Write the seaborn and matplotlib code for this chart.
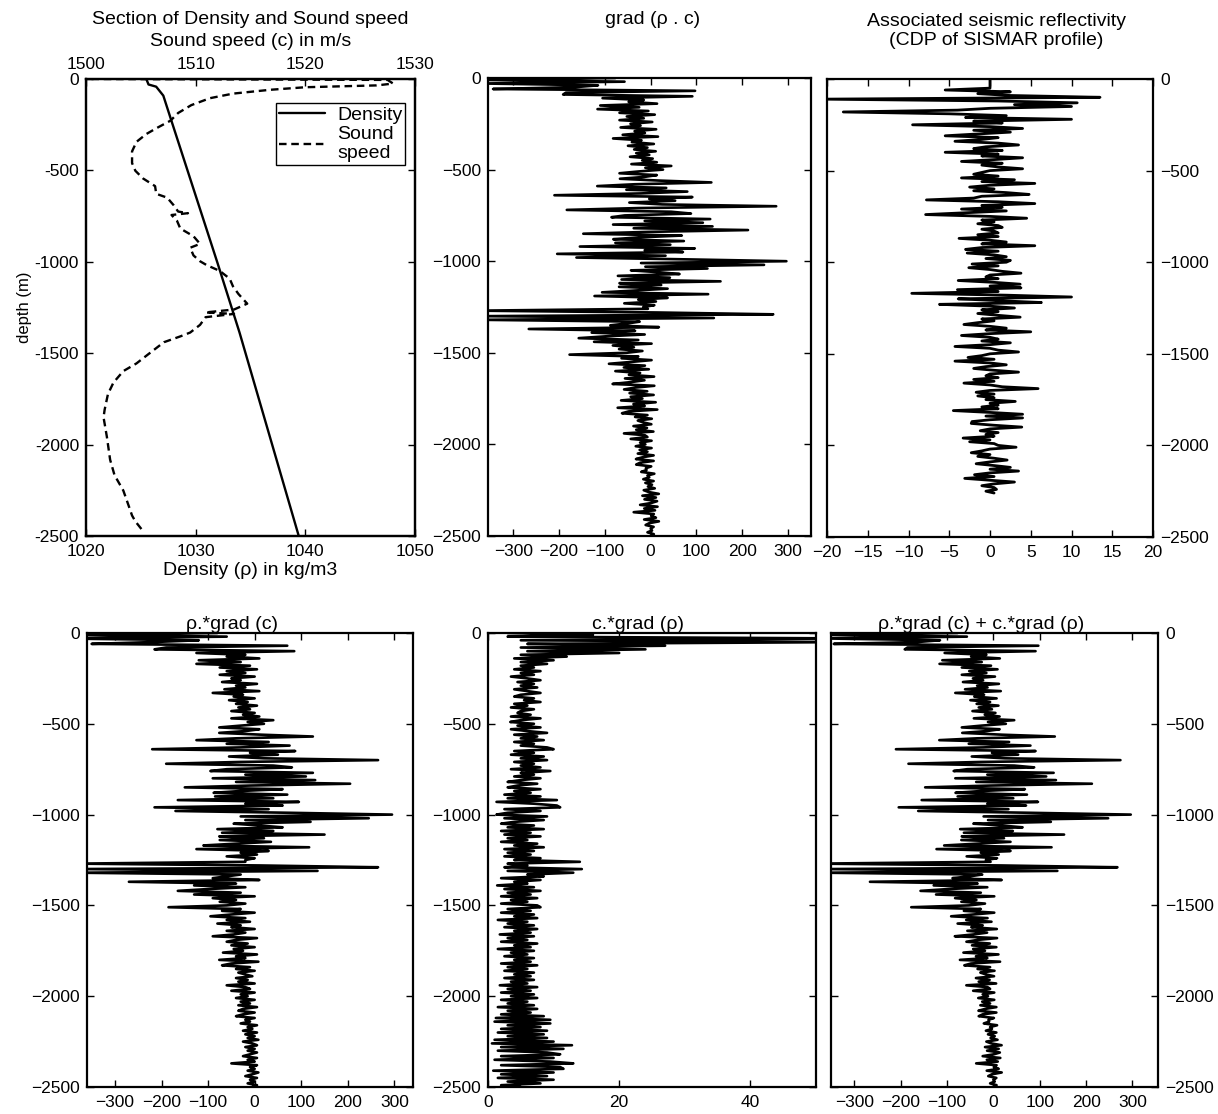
import numpy as np
import matplotlib
matplotlib.use("Agg")
import matplotlib.pyplot as plt
import seaborn as sns

# ---- values ----
# density profile (depth in m, rho in kg/m3)
dens_depth = [0, -30, -42, -91, -249, -1008, -1387, -2500]
dens_val = [1025.5, 1025.7, 1026.4, 1027.05, 1027.9, 1032.0, 1034.0, 1039.4]

# sound speed profile (depth in m, c in m/s)
c_depth = [0, -5, -25, -35, -45, -59, -80, -105, -143, -186, -228, -270, -301, -344,
           -396, -460, -502, -544, -586, -628, -649, -691, -725, -734, -744, -776,
           -818, -860, -902, -923, -965, -997, -1018, -1050, -1092, -1134, -1176,
           -1229, -1261, -1277, -1285, -1303, -1345, -1387, -1408, -1440, -1514,
           -1556, -1598, -1661, -1724, -1809, -1851, -1956, -2083, -2167, -2251,
           -2336, -2388, -2420, -2473]
c_val = [1500.5, 1527.5, 1528, 1526.5, 1520, 1516.8, 1513.4, 1511.3, 1509.6, 1508.4,
         1507.7, 1506.4, 1505.5, 1504.6, 1504.2, 1504.2, 1504.5, 1505.2, 1506.3,
         1506.4, 1507.4, 1508, 1508.4, 1509.3, 1507.8, 1508.3, 1508.6, 1509.8,
         1510.4, 1509.5, 1509.8, 1510.4, 1511, 1512.2, 1513.1, 1513.4, 1513.9,
         1514.7, 1513.5, 1510.9, 1513.5, 1510.9, 1510.4, 1509.5, 1508.6, 1507.1,
         1505.5, 1504.6, 1503.4, 1502.5, 1502, 1501.7, 1501.6, 1501.9, 1502.2,
         1502.6, 1503.4, 1503.9, 1504.2, 1504.5, 1505.2]

# rho.*grad(c), one value every 10 m from 0 to -2500 m
rho_gradc = [
    -80, -400, -60, -420, -120, -220, -350, 70, -190, -215,
    85, -125, -20, -60, 10, -120, -30, -125, -10, -75,
    5, -60, -20, -75, 0, -50, -30, -70, 5, -40,
    -20, -65, 10, -90, -25, -45, 0, -55, -15, -40,
    5, -35, -10, -50, 0, -25, 10, -50, 40, -15,
    20, -30, -76, 10, -20, -76, 15, 125, -40, -125,
    30, -60, 75, -30, -220, 87, -10, 50, -55, 20,
    265, -30, -190, 40, 80, -60, -95, 125, -20, 110,
    -90, 130, -40, 205, -10, -150, 60, -30, -88, 70,
    -85, 40, -165, 95, -20, 60, -215, 30, -170, 75,
    295, -30, 245, -20, 120, -45, 10, 60, -80, 40,
    -70, 150, -76, 20, -75, 35, -40, -110, 117, -125,
    30, -30, 5, -60, 0, -20, -20, -380, 10, 265,
    -380, 135, -380, -30, -60, -90, 10, -270, -40, -130,
    -20, -100, -165, -30, -130, 0, -90, -40, -75, -20,
    -60, -185, -30, -70, 0, -50, -95, -20, -60, -10,
    -80, -30, -50, 0, -60, -20, -45, -90, 5, -40,
    -60, -15, -50, 0, -45, -25, -68, 5, -40, -20,
    -76, 8, -50, -70, -10, -40, 0, -35, -20, -5,
    -40, -15, -35, 0, -60, -20, -10, -50, 0, -30,
    -15, -40, 0, -30, -10, -35, 5, -25, -35, 0,
    -25, -40, 0, -20, -10, -30, 5, -15, -5, -25,
    5, -20, 0, -15, 8, -25, -5, 5, -20, 0,
    -15, 5, -10, -25, 5, -15, 0, -50, 5, -10,
    0, -15, 8, -5, -20, 5, -10, 0, -15, 5,
    -5]

# c.*grad(rho), same 10 m sampling
c_gradrho = [
    3, 16, 3, 55, 5, 55, 6, 27, 5, 24,
    6, 20, 5, 12, 4, 10, 5, 9, 5, 7,
    4, 8, 5, 7, 3.5, 6, 8, 4.5, 7, 5,
    7.5, 4, 6, 8, 5, 4, 7, 5.5, 8, 4,
    6, 3.5, 7, 5, 4.5, 6.5, 3.5, 8, 5, 3.4,
    7, 4.5, 8, 3.5, 6, 9, 4, 7.5, 5, 8.5,
    4, 7, 5, 9, 10, 4, 7, 3.5, 8.5, 5,
    9, 4, 7, 5, 8, 3.5, 9.5, 5, 7, 4,
    8, 5, 3, 7.5, 4.5, 3, 8, 4, 6.5, 2.5,
    8, 3, 10.5, 1.3, 7, 10.5, 11, 2.5, 8, 3,
    1.3, 9, 2.5, 8.5, 4, 2, 7, 3, 8.5, 2,
    6.5, 2.5, 8, 3, 6, 2, 7.5, 4, 8.5, 2.5,
    7, 3, 6.5, 2.5, 8, 4, 14, 3, 6, 2.5,
    14.3, 3, 13, 6, 8.5, 2, 8, 4, 6, 1.4,
    7, 2.5, 8, 3, 6.5, 2, 7.5, 3.5, 6, 2,
    7.5, 8, 3, 6.5, 2, 7, 4, 7.5, 1.5, 6,
    3, 7, 2.5, 7.5, 4, 6.5, 1.8, 7, 3, 6,
    2, 7.5, 4, 6.5, 1.5, 7, 3.5, 6, 2.5, 7,
    4, 6.5, 2, 7.5, 3, 6, 2.5, 7, 4, 6.5,
    2.5, 7, 3.5, 6, 1.8, 7.5, 3, 6.5, 2, 7,
    3.5, 7.5, 2, 6, 3, 7, 1.5, 7.5, 3, 6.5,
    2, 8.5, 1.2, 9.5, 1, 9.5, 3, 8, 2, 9,
    1.5, 8.5, 3, 9, 1, 10, 0.6, 12.8, 2, 11.5,
    1.5, 9, 11, 2, 10, 1, 9.5, 13, 2, 11,
    11.5, 0.8, 10, 2, 9, 1.5, 10, 3, 8, 2,
    5]

# seismic reflectivity (CDP of SISMAR), every 10 m from 0 to -2260 m
reflect = [
    0, 0, 0, 0, 0, 0, -5.5, 2.5, -1.5, 2.5,
    13.5, -20.5, 1, 10.7, 3, 10, 0, -4, -18, -5,
    2, -3, 10, -2, 1.5, -9.5, 0, 4, -2, 2.5,
    -1.5, -5.5, 1, -1, -4.3, 1, 3.5, -0.5, -2, 1.5,
    -5.5, 1, -1, 4, 0.5, -3.5, 1.5, -1, 1, 4,
    0, -1, -2, 1, -3.5, 3, -1, 5.5, 0, -2.5,
    0.5, -2, 2, 4.8, -1, -2, -7.8, 1, 5.5, -1,
    1.5, -3.5, 2, -3, -7.9, 0, 4.5, -1, 0.5, -1.5,
    1, 1.5, -1, 0.5, 1, -1.5, 1, -3.8, 0, 2,
    -1, 5.5, -1, -3, 1, -2.8, 0.5, 2, -0.5, 2.5,
    2, -2.2, 1, -2.6, 0, 1.5, 3.8, 0, -0.5, 1,
    -3.9, 0.5, 3.7, 0, 3.8, -4, 1, -9.6, 2, 10,
    -3.9, 1, 6.3, -6.2, 0, 3, -1, 1, -1.5, 1,
    3.7, -1, 0.5, -1.5, -3.2, 0, 2, -0.5, 5, 0,
    -3.5, 0, 1, -1, 2.5, 0, -4.3, 0, 1, 3.5,
    0, -1, -2.7, 0.5, -4.3, 0, 2, -0.5, -2, 0.5,
    3.5, 0, -0.5, 1, -2, 0.5, -3.2, 0, 1.5, 5.9,
    0, -1.7, 0.5, -1.5, 0.5, -0.5, 3.1, 0, 1, -1,
    1, -4.5, 0, 4, -0.5, 4, 0, -2.2, -2.3, 0.5,
    3.9, 0, -1.2, 1, -0.5, 0.5, -3.3, 0, -2.5, 0.5,
    1, 3.2, 0, -1, -2.3, 0, -1.5, 0.5, 2.1, 0,
    -1.7, 0.5, 2.5, 0, 3.5, 0, -1.9, 0.5, -3.1, 0,
    3, 0.5, -1, 0.5, 0.8, -0.5, 0.5]

depth_ticks = [0, -500, -1000, -1500, -2000, -2500]

# ---- derived ----
depth = -10.0 * np.arange(len(rho_gradc))
depth_r = -10.0 * np.arange(len(reflect))
grad_rhoc = np.array(rho_gradc) + np.array(c_gradrho)

sns.set_theme(style="ticks")
plt.rcParams["font.family"] = ["Liberation Sans", "DejaVu Sans"]
plt.rcParams.update({
    "axes.linewidth": 1.6, "axes.edgecolor": "black", "text.color": "black",
    "axes.labelcolor": "black", "xtick.color": "black", "ytick.color": "black",
})

FS = 12.5   # tick labels
TS = 14     # titles / axis labels
W, H = 1218, 1114
fig = plt.figure(figsize=(W / 100, H / 100), dpi=100)


def box(x0, y0, x1, y1):
    return fig.add_axes([x0 / W, 1 - y1 / H, (x1 - x0) / W, (y1 - y0) / H])


def style(ax, right=False):
    ax.set_ylim(-2500, 0)
    ax.set_yticks(depth_ticks)
    ax.tick_params(direction="in", length=5, width=1, top=True, right=True,
                   labelsize=FS, pad=5)
    ax.tick_params(axis="x", pad=6)
    if right:
        ax.tick_params(labelleft=False, labelright=True)
    for s in ax.spines.values():
        s.set_linewidth(1.6)


def trace(ax, vals, dep, lw=1.9):
    sns.lineplot(x=vals, y=dep, sort=False, estimator=None, color="black",
                 linewidth=lw, ax=ax)


# top-left: density and sound speed
ax1 = box(86, 79, 415, 536)
trace(ax1, dens_val, dens_depth, lw=1.7)
dl = ax1.lines[-1]
dl.set_label("Density")
ax1.set_xlim(1020, 1050)
ax1.set_xticks([1020, 1030, 1040, 1050])
style(ax1)
ax1.tick_params(top=False)
ax1.set_yticklabels([str(t) for t in depth_ticks])
ax1.set_xlabel("Density (\u03c1) in kg/m3", fontsize=TS, labelpad=2)
ax1.set_ylabel("depth (m)", fontsize=12, labelpad=2)

ax1b = ax1.twiny()
trace(ax1b, c_val, c_depth, lw=1.7)
cl = ax1b.lines[-1]
cl.set_dashes([3.2, 2.0])
cl.set_label("Sound\nspeed")
ax1b.set_xlim(1500, 1530)
ax1b.set_xticks([1500, 1510, 1520, 1530])
ax1b.tick_params(direction="in", length=5, width=1, labelsize=FS, pad=5)
ax1b.set_xlabel("Sound speed (c) in m/s", fontsize=TS, labelpad=8)
ax1b.set_ylim(-2500, 0)
ax1.text(0.5, 1.13, "Section of Density and Sound speed", transform=ax1.transAxes,
         ha="center", va="center", fontsize=TS)
leg = ax1.legend(handles=[dl, cl], loc="upper right",
                 bbox_to_anchor=(0.97, 0.947), fontsize=TS, frameon=True,
                 fancybox=False, edgecolor="black", framealpha=1, borderpad=0.15,
                 handlelength=2.4, labelspacing=0.1, borderaxespad=0,
                 handletextpad=0.6)
leg.get_frame().set_linewidth(1.0)

# top-middle: grad(rho.c)
ax2 = box(488, 78, 811, 536)
trace(ax2, grad_rhoc, depth)
ax2.set_xlim(-355, 350)
ax2.set_xticks([-300, -200, -100, 0, 100, 200, 300])
style(ax2)
ax2.text(0.51, 1.128, "grad (\u03c1 . c)", transform=ax2.transAxes,
         ha="center", va="center", fontsize=TS)

# top-right: reflectivity
ax3 = box(827, 79, 1153, 537)
trace(ax3, reflect, depth_r, lw=2.0)
ax3.set_xlim(-20, 20)
ax3.set_xticks(np.arange(-20, 21, 5))
style(ax3, right=True)
ax3.text(0.52, 1.105, "Associated seismic reflectivity\n(CDP of SISMAR profile)",
         transform=ax3.transAxes, ha="center", va="center", fontsize=TS,
         linespacing=1.2)

# bottom-left: rho.*grad(c)
ax4 = box(87, 633, 413, 1087)
trace(ax4, rho_gradc, depth)
ax4.set_xlim(-360, 340)
ax4.set_xticks([-300, -200, -100, 0, 100, 200, 300])
style(ax4)
ax4.set_title("\u03c1.*grad (c)", fontsize=TS, pad=3, x=0.445)

# bottom-middle: c.*grad(rho)
ax5 = box(488, 633, 816, 1087)
trace(ax5, c_gradrho, depth)
ax5.set_xlim(0, 50)
ax5.set_xticks([0, 20, 40])
style(ax5)
ax5.set_title("c.*grad (\u03c1)", fontsize=TS, pad=3, x=0.456)

# bottom-right: sum
ax6 = box(831, 633, 1158, 1087)
trace(ax6, grad_rhoc, depth)
ax6.set_xlim(-350, 355)
ax6.set_xticks([-300, -200, -100, 0, 100, 200, 300])
style(ax6, right=True)
ax6.set_title("\u03c1.*grad (c) + c.*grad (\u03c1)", fontsize=TS, pad=3, x=0.458)

for ax in [ax2, ax3, ax4, ax5, ax6]:
    ax.set_xlabel("")
    ax.set_ylabel("")

fig.savefig("out.png", dpi=100, facecolor="white")
